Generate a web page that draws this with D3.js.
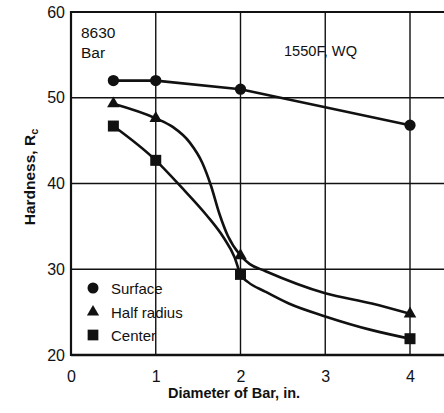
<!DOCTYPE html>
<html>
<head>
<meta charset="utf-8">
<script src="https://cdn.jsdelivr.net/npm/d3@7"></script>
<style>
  html, body { margin: 0; padding: 0; background: #fff; }
  svg { display: block; }
  text { font-family: "Liberation Sans", "Helvetica", Arial, sans-serif; fill: #111; }
</style>
</head>
<body>
<svg id="chart" width="444" height="413"></svg>
<script>
// ---- data ----
const xTicks = [0, 1, 2, 3, 4];
const yTicks = [20, 30, 40, 50, 60];
const seriesNames = ["Surface", "Half radius", "Center"];
const seriesShapes = ["circle", "triangle", "square"];

// measured points (markers)
const surfaceX = [0.5, 1, 2, 4];
const surfaceY = [52.0, 52.0, 51.0, 46.8];
const halfRadiusX = [0.5, 1, 2, 4];
const halfRadiusY = [49.3, 47.6, 31.6, 24.8];
const centerX = [0.5, 1, 2, 4];
const centerY = [46.7, 42.7, 29.4, 21.9];

// hand-drawn curve traces
const surfaceTraceX = [0.5, 1, 2, 4];
const surfaceTraceY = [52.0, 52.0, 51.0, 46.8];
const halfRadiusTraceX = [0.5, 1, 1.2, 1.4, 1.55, 1.65, 1.75, 1.85, 2, 2.11, 2.29, 3, 3.55, 4];
const halfRadiusTraceY = [49.3, 47.6, 46.6, 44.8, 42.4, 39.8, 36.5, 33.9, 31.6, 30.6, 29.8, 27.2, 26.0, 24.8];
const centerTraceX = [0.5, 1, 1.3, 1.6, 1.8, 1.93, 2, 2.09, 2.29, 2.57, 3, 3.55, 4];
const centerTraceY = [46.7, 42.7, 39.6, 36.3, 33.7, 31.4, 29.4, 28.5, 27.4, 26.0, 24.5, 22.9, 21.9];

const notes = ["8630", "Bar", "1550F, WQ"];
const xTitle = "Diameter of Bar, in.";

// ---- layout ----
const svg = d3.select("#chart");
const mLeft = 71, mTop = 12, mBottom = 355;
const x = d3.scaleLinear().domain([0, 4]).range([mLeft, 410]);
const y = d3.scaleLinear().domain([20, 60]).range([mBottom, mTop]);
const xEnd = x(4.6);

// grid
const g = svg.append("g");
g.selectAll(".vgrid").data(xTicks.filter(d => d > 0)).join("line")
  .attr("x1", d => x(d)).attr("x2", d => x(d))
  .attr("y1", mTop).attr("y2", mBottom)
  .attr("stroke", "#111").attr("stroke-width", 1.4);
g.selectAll(".hgrid").data(yTicks.filter(d => d > 20 && d < 60)).join("line")
  .attr("x1", mLeft).attr("x2", xEnd)
  .attr("y1", d => y(d)).attr("y2", d => y(d))
  .attr("stroke", "#111").attr("stroke-width", 1.5);
// frame
g.append("line").attr("x1", mLeft).attr("x2", xEnd).attr("y1", y(60)).attr("y2", y(60))
  .attr("stroke", "#111").attr("stroke-width", 2);
g.append("line").attr("x1", mLeft).attr("x2", xEnd).attr("y1", y(20)).attr("y2", y(20))
  .attr("stroke", "#111").attr("stroke-width", 2.4);
g.append("line").attr("x1", mLeft).attr("x2", mLeft).attr("y1", mTop - 1).attr("y2", mBottom + 1)
  .attr("stroke", "#111").attr("stroke-width", 2.2);

// axes (labels only, via d3 axes)
const xAxis = svg.append("g").attr("transform", `translate(0,${mBottom})`)
  .call(d3.axisBottom(x).tickValues(xTicks).tickFormat(d3.format("d")).tickSize(0).tickPadding(16));
xAxis.select(".domain").remove();
xAxis.selectAll("text").style("font-size", "16px").style("font-family", "Liberation Sans, Arial, sans-serif").attr("fill", "#111");

const yAxis = svg.append("g").attr("transform", `translate(${mLeft},0)`)
  .call(d3.axisLeft(y).tickValues(yTicks).tickFormat(d3.format("d")).tickSize(0).tickPadding(6));
yAxis.select(".domain").remove();
yAxis.selectAll("text").style("font-size", "16px").style("font-family", "Liberation Sans, Arial, sans-serif").attr("fill", "#111");

// axis titles
svg.append("text").attr("x", 234).attr("y", 398).attr("text-anchor", "middle")
  .style("font-size", "14.5px").style("font-weight", "bold").text(xTitle);
const yt = svg.append("text").attr("transform", "translate(35,177) rotate(-90)")
  .attr("text-anchor", "middle").style("font-size", "15.5px").style("font-weight", "bold");
yt.append("tspan").text("Hardness, R");
yt.append("tspan").attr("dy", 3).style("font-size", "11px").text("c");

// notes
svg.append("text").attr("x", 81).attr("y", 38).style("font-size", "15.5px").text(notes[0]);
svg.append("text").attr("x", 81).attr("y", 58).style("font-size", "15.5px").text(notes[1]);
svg.append("text").attr("x", 284).attr("y", 56).style("font-size", "14.6px").text(notes[2]);

// curves
const lineSmooth = d3.line().x(d => x(d[0])).y(d => y(d[1])).curve(d3.curveMonotoneX);
const lineStraight = d3.line().x(d => x(d[0])).y(d => y(d[1]));
const traces = [
  { pts: d3.zip(surfaceTraceX, surfaceTraceY), gen: lineStraight },
  { pts: d3.zip(halfRadiusTraceX, halfRadiusTraceY), gen: lineSmooth },
  { pts: d3.zip(centerTraceX, centerTraceY), gen: lineSmooth }
];
svg.selectAll(".curve").data(traces).join("path")
  .attr("d", d => d.gen(d.pts)).attr("fill", "none").attr("stroke", "#111")
  .attr("stroke-width", 2.6).attr("stroke-linejoin", "round");

// markers
const symType = { circle: d3.symbolCircle, triangle: d3.symbolTriangle, square: d3.symbolSquare };
const symSize = { circle: 100, triangle: 68, square: 121 };
const pts = [
  d3.zip(surfaceX, surfaceY),
  d3.zip(halfRadiusX, halfRadiusY),
  d3.zip(centerX, centerY)
];
pts.forEach((arr, i) => {
  const shape = seriesShapes[i];
  svg.selectAll(".m" + i).data(arr).join("path")
    .attr("transform", d => `translate(${x(d[0])},${y(d[1])})`)
    .attr("d", d3.symbol().type(symType[shape]).size(symSize[shape]))
    .attr("fill", "#111");
});

// legend
const legY = [288, 312, 335];
seriesNames.forEach((name, i) => {
  const shape = seriesShapes[i];
  svg.append("path").attr("transform", `translate(93,${legY[i]})`)
    .attr("d", d3.symbol().type(symType[shape]).size(symSize[shape] * 0.95)).attr("fill", "#111");
  svg.append("text").attr("x", 111).attr("y", legY[i] + 6).style("font-size", "15px").text(name);
});
</script>
</body>
</html>
